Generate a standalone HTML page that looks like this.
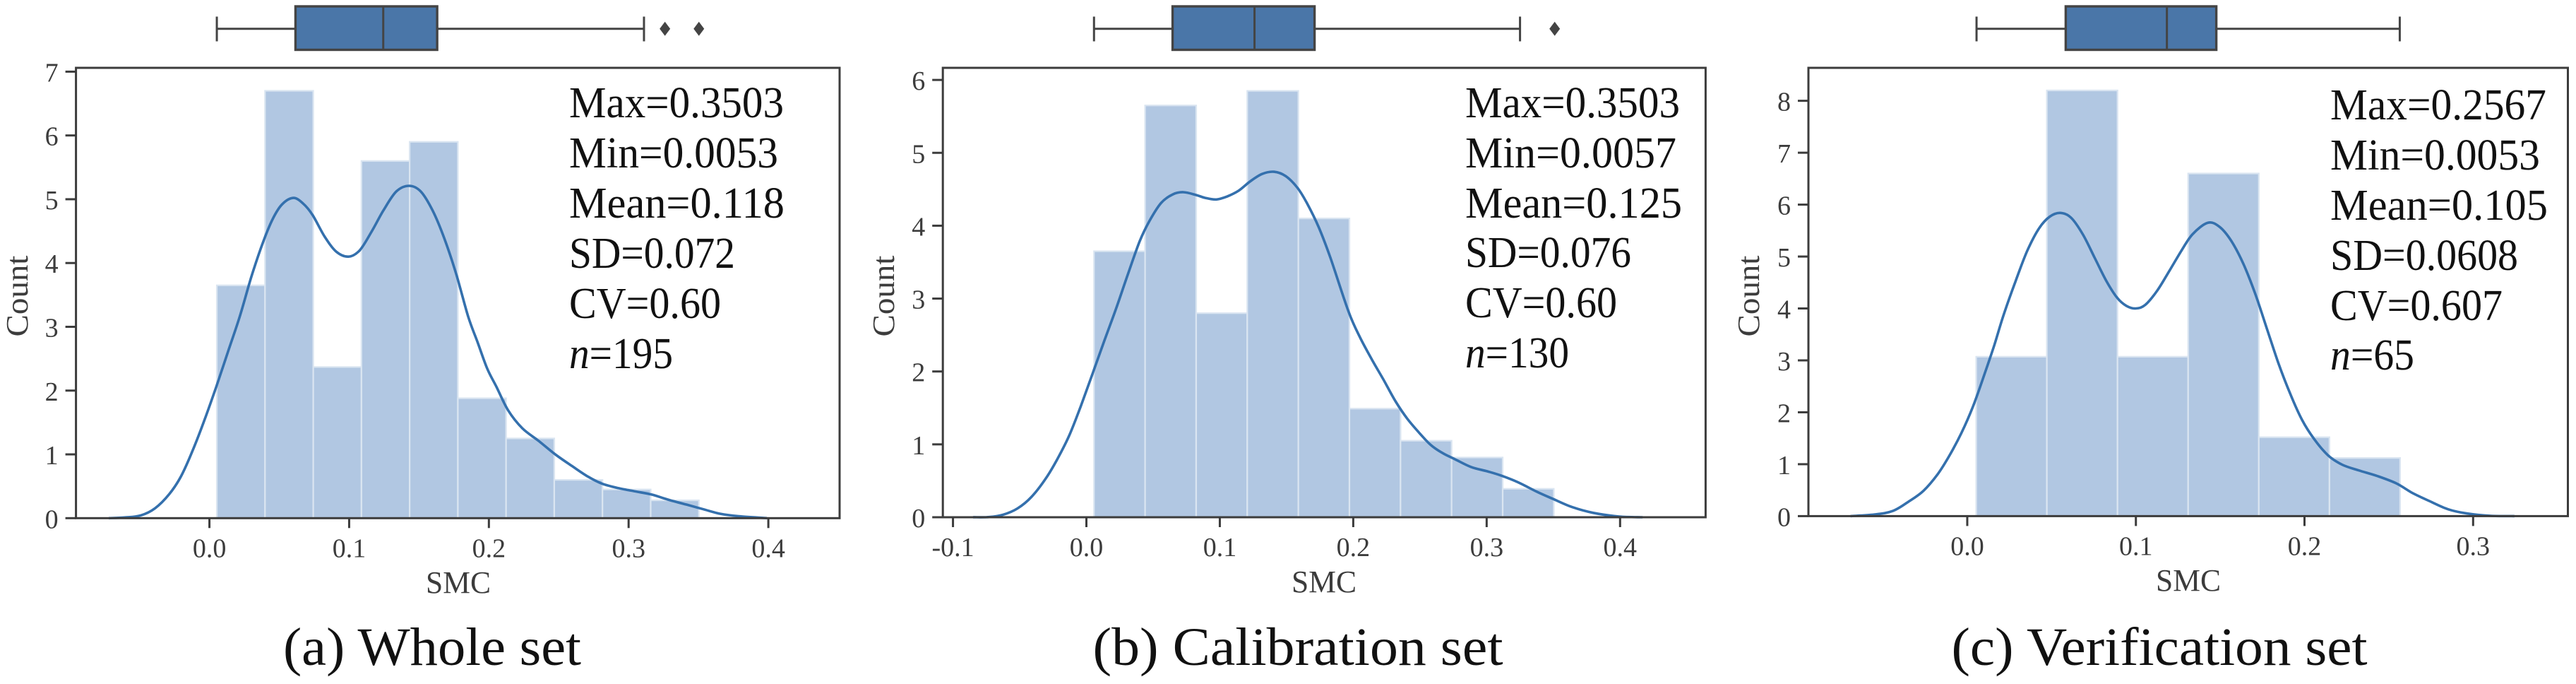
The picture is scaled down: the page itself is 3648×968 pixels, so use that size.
<!DOCTYPE html>
<html>
<head>
<meta charset="utf-8">
<title>SMC distributions</title>
<style>
html,body{margin:0;padding:0;background:#fff;width:3648px;height:968px;overflow:hidden}
svg{display:block;font-family:"Liberation Serif",serif}
.stat{font-size:62px;fill:#111}
.cap{font-size:76px;fill:#111;text-anchor:middle}
.title{font-size:44px;fill:#3c3c3c;text-anchor:middle}
.tick{font-size:38px;fill:#3c3c3c}
</style>
</head>
<body>
<svg id="fig" xmlns="http://www.w3.org/2000/svg" width="3648" height="968" viewBox="0 0 3648 968">
  <g id="marks"></g>

  <g>
    <text class="stat" x="806" y="166" textLength="304" lengthAdjust="spacingAndGlyphs">Max=0.3503</text>
    <text class="stat" x="806" y="237" textLength="296" lengthAdjust="spacingAndGlyphs">Min=0.0053</text>
    <text class="stat" x="806" y="308" textLength="305" lengthAdjust="spacingAndGlyphs">Mean=0.118</text>
    <text class="stat" x="806" y="379" textLength="235" lengthAdjust="spacingAndGlyphs">SD=0.072</text>
    <text class="stat" x="806" y="450" textLength="215" lengthAdjust="spacingAndGlyphs">CV=0.60</text>
    <text class="stat" x="806" y="521" textLength="147" lengthAdjust="spacingAndGlyphs"><tspan font-style="italic">n</tspan>=195</text>
  </g>
  <g>
    <text class="stat" x="2075" y="166" textLength="304" lengthAdjust="spacingAndGlyphs">Max=0.3503</text>
    <text class="stat" x="2075" y="237" textLength="299" lengthAdjust="spacingAndGlyphs">Min=0.0057</text>
    <text class="stat" x="2075" y="308" textLength="307" lengthAdjust="spacingAndGlyphs">Mean=0.125</text>
    <text class="stat" x="2075" y="378" textLength="235" lengthAdjust="spacingAndGlyphs">SD=0.076</text>
    <text class="stat" x="2075" y="449" textLength="215" lengthAdjust="spacingAndGlyphs">CV=0.60</text>
    <text class="stat" x="2075" y="520" textLength="147" lengthAdjust="spacingAndGlyphs"><tspan font-style="italic">n</tspan>=130</text>
  </g>
  <g>
    <text class="stat" x="3300" y="169" textLength="306" lengthAdjust="spacingAndGlyphs">Max=0.2567</text>
    <text class="stat" x="3300" y="240" textLength="297" lengthAdjust="spacingAndGlyphs">Min=0.0053</text>
    <text class="stat" x="3300" y="311" textLength="308" lengthAdjust="spacingAndGlyphs">Mean=0.105</text>
    <text class="stat" x="3300" y="382" textLength="266" lengthAdjust="spacingAndGlyphs">SD=0.0608</text>
    <text class="stat" x="3300" y="453" textLength="244" lengthAdjust="spacingAndGlyphs">CV=0.607</text>
    <text class="stat" x="3300" y="523" textLength="119" lengthAdjust="spacingAndGlyphs"><tspan font-style="italic">n</tspan>=65</text>
  </g>

  <text class="title" x="649" y="839" textLength="92" lengthAdjust="spacingAndGlyphs">SMC</text>
  <text class="title" x="1875" y="838" textLength="92" lengthAdjust="spacingAndGlyphs">SMC</text>
  <text class="title" x="3099" y="836" textLength="92" lengthAdjust="spacingAndGlyphs">SMC</text>
  <text class="title" transform="translate(39,419) rotate(-90)" textLength="115" lengthAdjust="spacingAndGlyphs">Count</text>
  <text class="title" transform="translate(1266,419) rotate(-90)" textLength="115" lengthAdjust="spacingAndGlyphs">Count</text>
  <text class="title" transform="translate(2491,419) rotate(-90)" textLength="115" lengthAdjust="spacingAndGlyphs">Count</text>

  <text class="cap" x="612" y="941" textLength="422" lengthAdjust="spacingAndGlyphs">(a) Whole set</text>
  <text class="cap" x="1838" y="941" textLength="581" lengthAdjust="spacingAndGlyphs">(b) Calibration set</text>
  <text class="cap" x="3058" y="941" textLength="589" lengthAdjust="spacingAndGlyphs">(c) Verification set</text>
</svg>
<script>
// ---- Panel (a) Whole set ----
const countsA = [3.65, 6.7, 2.37, 5.6, 5.9, 1.88, 1.25, 0.6, 0.45, 0.28];
const rangeA = [0.0053, 0.3503];
const kdeXA = [-0.072,-0.06,-0.049,-0.0389,-0.0288,-0.0204,-0.012,-0.0035,0.0049,0.0133,0.0217,0.0301,0.0386,0.0453,0.052,0.0601,0.0672,0.0739,0.0823,0.0907,0.0995,0.1076,0.116,0.1244,0.1337,0.1429,0.1513,0.1598,0.1682,0.1766,0.1852,0.1919,0.1987,0.2054,0.2138,0.2239,0.2357,0.2475,0.2593,0.271,0.2811,0.2929,0.3047,0.3165,0.3283,0.3418,0.3535,0.3653,0.3788,0.399];
const kdeYA = [0,0.012,0.044,0.155,0.376,0.653,1.06,1.54,2.06,2.61,3.16,3.79,4.34,4.69,4.92,5.02,4.93,4.75,4.42,4.18,4.1,4.2,4.49,4.82,5.12,5.21,5.12,4.82,4.38,3.83,3.16,2.76,2.35,2.06,1.69,1.41,1.21,1.0,0.82,0.65,0.54,0.47,0.42,0.37,0.29,0.21,0.14,0.07,0.03,0];
const boxA = [0.0053, 0.0616, 0.1244, 0.163, 0.311];
const fliersA = [0.326, 0.3503];
const xTicksA = [0, 0.1, 0.2, 0.3, 0.4];
const yTicksA = [0, 1, 2, 3, 4, 5, 6, 7];
const xLimA = [-0.0955, 0.451];
const yLimA = [0, 7.06];

// ---- Panel (b) Calibration set ----
const countsB = [3.65, 5.65, 2.8, 5.85, 4.1, 1.49, 1.05, 0.82, 0.39];
const rangeB = [0.0057, 0.3503];
const kdeXB = [-0.085,-0.0728,-0.0623,-0.0517,-0.0411,-0.0305,-0.0217,-0.0129,-0.0041,0.0048,0.0136,0.0224,0.0312,0.04,0.0471,0.0559,0.0647,0.0727,0.0824,0.0894,0.0974,0.1053,0.1141,0.1229,0.1317,0.1406,0.1494,0.1582,0.1653,0.1741,0.1829,0.1965,0.2053,0.2141,0.2229,0.2317,0.2406,0.2494,0.2582,0.267,0.2758,0.2882,0.3005,0.3111,0.3235,0.3376,0.3499,0.364,0.3799,0.3993,0.4169];
const kdeYB = [0,0.003,0.036,0.12,0.28,0.53,0.8,1.12,1.53,1.98,2.43,2.87,3.34,3.79,4.06,4.31,4.43,4.46,4.42,4.38,4.36,4.4,4.48,4.61,4.71,4.74,4.68,4.52,4.31,3.98,3.56,2.82,2.46,2.16,1.88,1.59,1.35,1.16,0.99,0.88,0.8,0.69,0.63,0.57,0.48,0.35,0.25,0.14,0.06,0.01,0];
const boxB = [0.0057, 0.0646, 0.126, 0.171, 0.325];
const fliersB = [0.351];
const xTicksB = [-0.1, 0, 0.1, 0.2, 0.3, 0.4];
const yTicksB = [0, 1, 2, 3, 4, 5, 6];
const xLimB = [-0.1076, 0.4641];
const yLimB = [0, 6.166];

// ---- Panel (c) Verification set ----
const countsC = [3.07, 8.2, 3.07, 6.6, 1.52, 1.12];
const rangeC = [0.0053, 0.2567];
const kdeXC = [-0.0692,-0.0552,-0.0441,-0.0343,-0.0259,-0.0175,-0.0105,-0.0035,0.0035,0.0105,0.0161,0.0217,0.0287,0.0357,0.0427,0.049,0.0552,0.0615,0.0685,0.0755,0.0825,0.0888,0.0944,0.1,0.1056,0.1126,0.1196,0.1266,0.1336,0.1427,0.1497,0.1566,0.1636,0.1706,0.1776,0.1846,0.1916,0.1986,0.2056,0.214,0.2224,0.2322,0.2434,0.2545,0.2643,0.2741,0.2853,0.2965,0.3105,0.3245];
const kdeYC = [0,0.03,0.1,0.29,0.49,0.81,1.17,1.6,2.12,2.76,3.3,3.89,4.53,5.12,5.55,5.77,5.84,5.75,5.43,4.98,4.53,4.21,4.05,4.0,4.07,4.34,4.71,5.09,5.43,5.65,5.57,5.3,4.87,4.3,3.62,2.94,2.35,1.85,1.49,1.17,0.99,0.88,0.77,0.63,0.44,0.29,0.13,0.05,0.005,0];
const boxC = [0.0055, 0.0584, 0.1184, 0.1477, 0.2565];
const fliersC = [];
const xTicksC = [0, 0.1, 0.2, 0.3];
const yTicksC = [0, 1, 2, 3, 4, 5, 6, 7, 8];
const xLimC = [-0.0942, 0.3562];
const yLimC = [0, 8.635];

const NS = 'http://www.w3.org/2000/svg';
const root = document.getElementById('marks');

function mk(parent, tag, attrs, text) {
  const el = document.createElementNS(NS, tag);
  for (const k in attrs) el.setAttribute(k, attrs[k]);
  if (text !== undefined) el.textContent = text;
  parent.appendChild(el);
  return el;
}

function smoothPath(pts) {
  let d = 'M' + pts[0][0].toFixed(1) + ' ' + pts[0][1].toFixed(1);
  for (let i = 0; i < pts.length - 1; i++) {
    const p0 = pts[Math.max(i - 1, 0)], p1 = pts[i], p2 = pts[i + 1], p3 = pts[Math.min(i + 2, pts.length - 1)];
    const c1x = p1[0] + (p2[0] - p0[0]) / 6, c1y = p1[1] + (p2[1] - p0[1]) / 6;
    const c2x = p2[0] - (p3[0] - p1[0]) / 6, c2y = p2[1] - (p3[1] - p1[1]) / 6;
    d += 'C' + c1x.toFixed(1) + ' ' + c1y.toFixed(1) + ' ' + c2x.toFixed(1) + ' ' + c2y.toFixed(1) + ' ' + p2[0].toFixed(1) + ' ' + p2[1].toFixed(1);
  }
  return d;
}

function drawPanel(frame, xLim, yLim, counts, range, kdeX, kdeY, box, fliers, xTicks, yTicks) {
  const g = mk(root, 'g', {});
  
  

  const xPos = v => frame.left + (v - xLim[0]) / (xLim[1] - xLim[0]) * (frame.right - frame.left);
  const yPos = v => frame.bottom - (v - yLim[0]) / (yLim[1] - yLim[0]) * (frame.bottom - frame.top);

  // histogram bars
  const binW = (range[1] - range[0]) / counts.length;
  counts.forEach((c, i) => {
    const x0 = xPos(range[0] + i * binW), x1 = xPos(range[0] + (i + 1) * binW), y = yPos(c);
    const bar = mk(g, 'rect', {x: x0, y: y, width: x1 - x0, height: frame.bottom - y, fill: '#b1c7e2', stroke: '#dae5f1', 'stroke-width': 2.2});
    
    
  });

  // KDE curve
  const pts = kdeX.map((x, i) => [xPos(x), yPos(kdeY[i])]);
  const curve = mk(g, 'path', {d: smoothPath(pts), fill: 'none', stroke: '#3470ad', 'stroke-width': 3.6});
  
  

  // frame
  const border = mk(g, 'rect', {x: frame.left, y: frame.top, width: frame.right - frame.left, height: frame.bottom - frame.top, fill: 'none', stroke: '#3c3c3c', 'stroke-width': 3});
  
  

  // x ticks
  xTicks.forEach(t => {
    const x = xPos(t);
    const tm = mk(g, 'line', {x1: x, x2: x, y1: frame.bottom, y2: frame.bottom + 14, stroke: '#3c3c3c', 'stroke-width': 3});
    
    
    const lab = mk(g, 'text', {x: x, y: frame.bottom + 55, 'text-anchor': 'middle', class: 'tick'}, t.toFixed(1));
    
    
  });

  // y ticks
  yTicks.forEach(t => {
    const y = yPos(t);
    const tm = mk(g, 'line', {x1: frame.left - 15, x2: frame.left, y1: y, y2: y, stroke: '#3c3c3c', 'stroke-width': 3});
    
    
    const lab = mk(g, 'text', {x: frame.left - 25, y: y + 14, 'text-anchor': 'end', class: 'tick'}, String(t));
    
    
  });

  // box plot above the axes
  const by0 = 9, by1 = 70.5, byc = 40.7, capTop = 23.5, capBot = 58.5;
  const bp = mk(g, 'g', {stroke: '#444', 'stroke-width': 3});
  
  
  const wl = mk(bp, 'line', {x1: xPos(box[0]), x2: xPos(box[1]), y1: byc, y2: byc});
  
  
  const wh = mk(bp, 'line', {x1: xPos(box[3]), x2: xPos(box[4]), y1: byc, y2: byc});
  
  
  const cl = mk(bp, 'line', {x1: xPos(box[0]), x2: xPos(box[0]), y1: capTop, y2: capBot});
  
  
  const ch = mk(bp, 'line', {x1: xPos(box[4]), x2: xPos(box[4]), y1: capTop, y2: capBot});
  
  
  const rc = mk(bp, 'rect', {x: xPos(box[1]), y: by0, width: xPos(box[3]) - xPos(box[1]), height: by1 - by0, fill: '#4a76a8', 'stroke-width': 3.4});
  
  
  const md = mk(bp, 'line', {x1: xPos(box[2]), x2: xPos(box[2]), y1: by0, y2: by1});
  
  
  fliers.forEach(f => {
    const x = xPos(f);
    const dm = mk(g, 'path', {d: 'M' + x + ' ' + (byc - 10) + 'L' + (x + 7.5) + ' ' + byc + 'L' + x + ' ' + (byc + 10) + 'L' + (x - 7.5) + ' ' + byc + 'Z', fill: '#444'});
    
    
  });
}

drawPanel({left: 107.6, right: 1189, top: 96, bottom: 733.3}, xLimA, yLimA, countsA, rangeA, kdeXA, kdeYA, boxA, fliersA, xTicksA, yTicksA);
drawPanel({left: 1335.2, right: 2415.4, top: 96, bottom: 732}, xLimB, yLimB, countsB, rangeB, kdeXB, kdeYB, boxB, fliersB, xTicksB, yTicksB);
drawPanel({left: 2561, right: 3636.5, top: 96, bottom: 730.4}, xLimC, yLimC, countsC, rangeC, kdeXC, kdeYC, boxC, fliersC, xTicksC, yTicksC);
</script>
</body>
</html>
